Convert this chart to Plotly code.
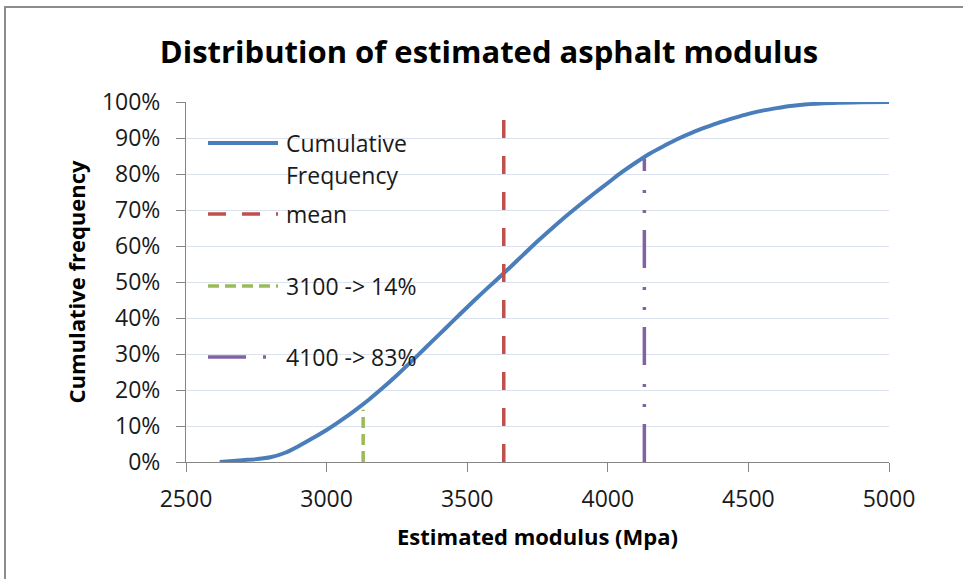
import plotly.graph_objects as go

# ---- data ----
modulus = [2620, 2700, 2750, 2800, 2850, 2900, 2950, 3000, 3050, 3100, 3150, 3200, 3250,
           3300, 3350, 3400, 3450, 3500, 3550, 3600, 3650, 3700, 3750, 3800, 3850,
           3900, 3950, 4000, 4050, 4100, 4150, 4200, 4250, 4300, 4350, 4400, 4450,
           4500, 4550, 4600, 4650, 4700, 4800, 4900, 5000]
cum_freq = [0.0, 0.5, 0.8, 1.3, 2.5, 4.4, 6.6, 8.9, 11.5, 14.3, 17.3, 20.6, 24.1,
            27.8, 31.6, 35.4, 39.2, 43.0, 46.7, 50.3, 53.9, 57.6, 61.3, 64.8, 68.2,
            71.4, 74.5, 77.5, 80.5, 83.2, 85.7, 87.8, 89.8, 91.5, 93.0, 94.4, 95.6,
            96.7, 97.6, 98.3, 98.9, 99.3, 99.7, 99.9, 100.0]

mean_x = [3630, 3630]
mean_y = [0, 100]
p3100_x = [3130, 3130]
p3100_y = [0, 14.5]
p4100_x = [4130, 4130]
p4100_y = [0, 84.3]

legend_labels = ["Cumulative", "Frequency", "mean", "3100 -> 14%", "4100 -> 83%"]
x_ticks = [2500, 3000, 3500, 4000, 4500, 5000]
y_ticks = [0, 10, 20, 30, 40, 50, 60, 70, 80, 90, 100]

BLUE = "#4A7EBB"
RED = "#C0504D"
GREEN = "#9BBB59"
PURPLE = "#8064A2"
DASH_MEAN = "18px,18px"
DASH_MEAN_LEG = "18px,16px"
DASH_GREEN = "11px,6px"
DASH_PURPLE = "38px,17px,3px,17px,3px,19px"

W, H = 963, 579
L, R, T, B = 186, 74, 102, 117
PW, PH = W - L - R, H - T - B

FONT = "Open Sans, Noto Sans, DejaVu Sans, sans-serif"
TXT = "#1a1a1a"


def px(xpix):
    return (xpix - L) / PW


def py(ypix):
    return (H - B - ypix) / PH


fig = go.Figure()
fig.add_trace(go.Scatter(x=p3100_x, y=p3100_y, mode="lines",
                         line=dict(color=GREEN, width=3.5, dash=DASH_GREEN),
                         name="3100 -> 14%", showlegend=False))
fig.add_trace(go.Scatter(x=p4100_x, y=p4100_y, mode="lines",
                         line=dict(color=PURPLE, width=3.5, dash=DASH_PURPLE),
                         name="4100 -> 83%", showlegend=False))
fig.add_trace(go.Scatter(x=modulus, y=cum_freq, mode="lines",
                         line=dict(color=BLUE, width=4, shape="spline", smoothing=0.8),
                         name="Cumulative Frequency", showlegend=False))
fig.add_trace(go.Scatter(x=mean_x, y=mean_y, mode="lines",
                         line=dict(color=RED, width=3.5, dash=DASH_MEAN),
                         name="mean", showlegend=False))

# ---- manual legend (inside plot area, like the Excel original) ----
shapes = []
ann = []
leg_items = [
    (BLUE, "solid", 4, 143),
    (RED, DASH_MEAN_LEG, 3.5, 214),
    (GREEN, DASH_GREEN, 3.5, 286),
    (PURPLE, DASH_PURPLE, 3.5, 357),
]
for color, dash, w, ypix in leg_items:
    shapes.append(dict(type="line", xref="paper", yref="paper",
                       x0=px(208), x1=px(278), y0=py(ypix), y1=py(ypix),
                       line=dict(color=color, width=w, dash=dash)))
text_rows = [143, 175, 214, 286, 357]
for label, ypix in zip(legend_labels, text_rows):
    ann.append(dict(text=label, xref="paper", yref="paper", x=px(284), y=py(ypix),
                    xanchor="left", yanchor="middle", showarrow=False,
                    font=dict(family=FONT, size=23, color=TXT)))

# outer chart border (top and left visible)
shapes.append(dict(type="rect", xref="paper", yref="paper",
                   x0=px(5), x1=px(975), y0=py(7), y1=py(600),
                   line=dict(color="#8c8c8c", width=2), fillcolor="rgba(0,0,0,0)",
                   layer="above"))

fig.update_layout(
    width=W, height=H,
    margin=dict(l=L, r=R, t=T, b=B),
    paper_bgcolor="white", plot_bgcolor="white",
    title=dict(text="<b>Distribution of estimated asphalt modulus</b>",
               x=489 / W, xanchor="center", y=1 - 52 / H, yanchor="middle",
               font=dict(family=FONT, size=31, color="#000000")),
    font=dict(family=FONT, color=TXT),
    shapes=shapes,
    annotations=ann,
    showlegend=False,
)
fig.update_xaxes(range=[2500, 5000], tickvals=x_ticks, ticktext=[str(v) for v in x_ticks],
                 showgrid=False, zeroline=False, showline=True, linecolor="#868686",
                 linewidth=1, ticks="outside", ticklen=9, tickcolor="#868686",
                 ticklabelstandoff=7,
                 tickfont=dict(family=FONT, size=23, color=TXT),
                 title=dict(text="<b>Estimated modulus (Mpa)</b>", standoff=17,
                            font=dict(family=FONT, size=22, color="#000000")))
fig.update_yaxes(range=[0, 100], tickvals=y_ticks, ticktext=[f"{v}%" for v in y_ticks],
                 showgrid=True, gridcolor="#DCE3EE", gridwidth=1, zeroline=False,
                 showline=True, linecolor="#868686", linewidth=1,
                 ticks="outside", ticklen=9, tickcolor="#868686",
                 ticklabelstandoff=11,
                 tickfont=dict(family=FONT, size=23, color=TXT),
                 title=dict(text="<b>Cumulative frequency</b>", standoff=10,
                            font=dict(family=FONT, size=22, color="#000000")))

fig.write_html("out.html")
